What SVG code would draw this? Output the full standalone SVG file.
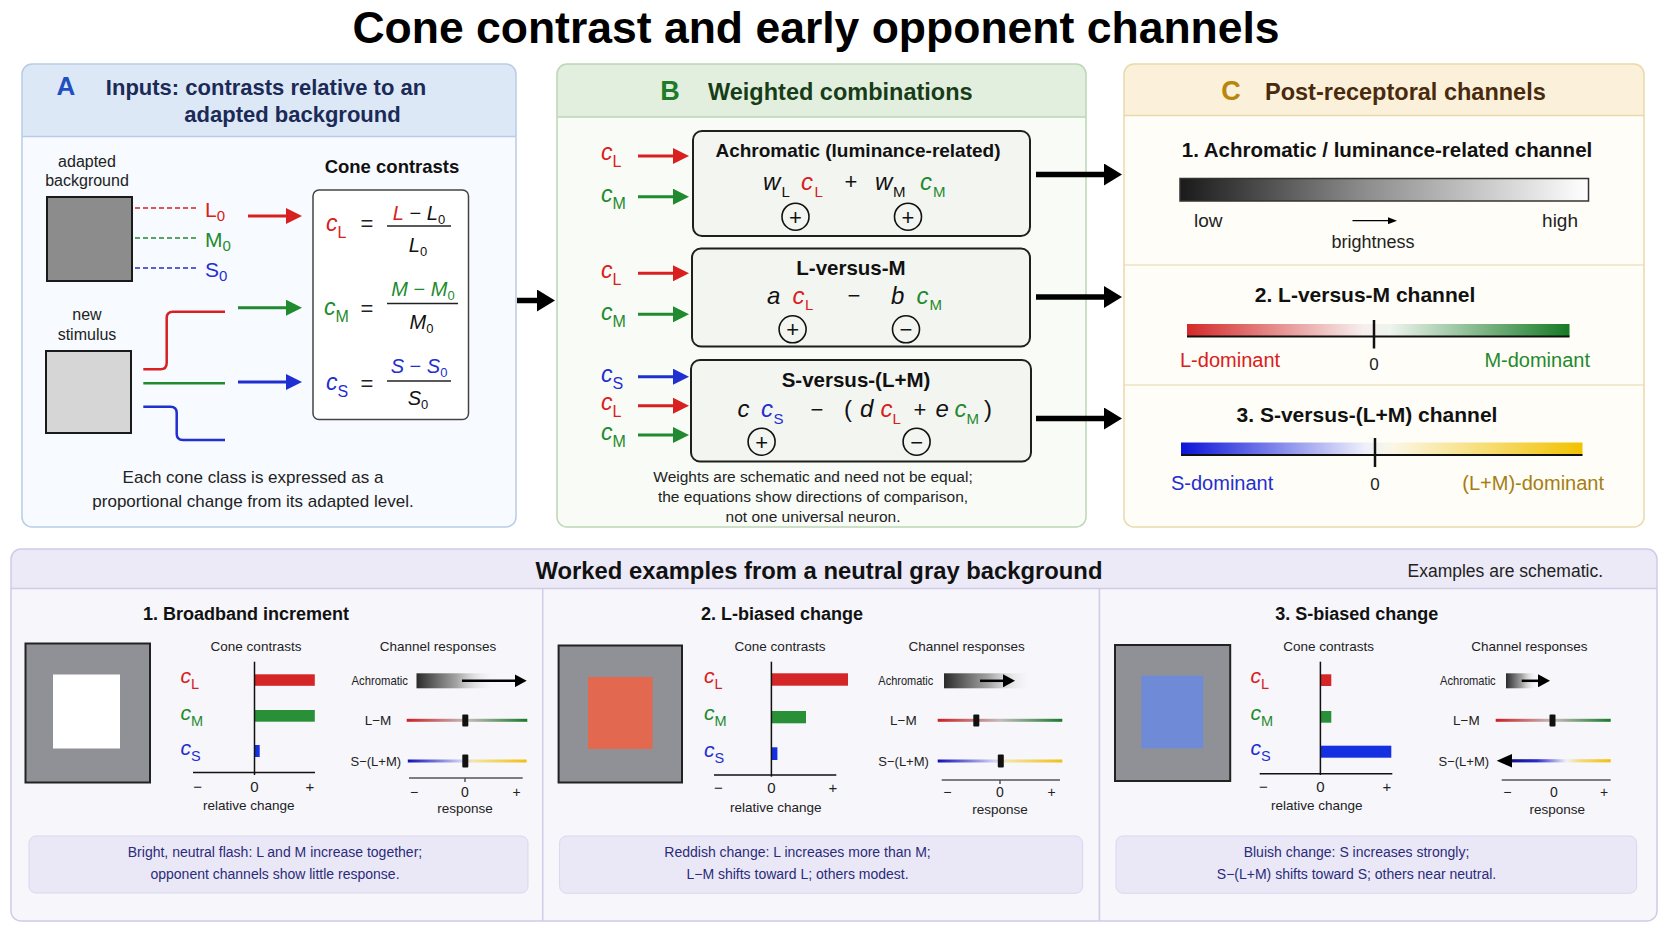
<svg xmlns="http://www.w3.org/2000/svg" width="1672" height="941" viewBox="0 0 1672 941">
<defs>
<style>
text{font-family:"Liberation Sans",Arial,Helvetica,sans-serif}
.b{font-weight:bold}
.i{font-style:italic}
.n{font-style:normal}
.r{fill:#d92020}
.g{fill:#1f8a2e}
.bl{fill:#1f2fd0}
.cap{font-size:17px;fill:#222}
.capB{font-size:15.5px;fill:#222}
.exc{font-size:14px;fill:#2b2b7a}
.sm{font-size:13.5px;fill:#222}
.sgn{fill:none;stroke:#111;stroke-width:1.6}
.ax{stroke:#111;stroke-width:1.5;fill:none}
.rax{stroke:#555;stroke-width:1.5;fill:none}
</style>
<linearGradient id="gAch" x1="0" y1="0" x2="1" y2="0">
<stop offset="0" stop-color="#1a1a1a"/><stop offset="0.45" stop-color="#8c8c8c"/><stop offset="1" stop-color="#ffffff"/>
</linearGradient>
<linearGradient id="gLM" x1="0" y1="0" x2="1" y2="0">
<stop offset="0" stop-color="#d42a2a"/><stop offset="0.46" stop-color="#f7eeee"/><stop offset="0.53" stop-color="#eef4ee"/><stop offset="1" stop-color="#157a25"/>
</linearGradient>
<linearGradient id="gSLM" x1="0" y1="0" x2="1" y2="0">
<stop offset="0" stop-color="#0c14d8"/><stop offset="0.46" stop-color="#eef0fb"/><stop offset="0.53" stop-color="#fbf6e4"/><stop offset="1" stop-color="#f2c200"/>
</linearGradient>
<linearGradient id="gLMs" x1="0" y1="0" x2="1" y2="0">
<stop offset="0" stop-color="#cc2020"/><stop offset="0.5" stop-color="#c4bcbc"/><stop offset="1" stop-color="#1a7a2a"/>
</linearGradient>
<linearGradient id="gSLMs" x1="0" y1="0" x2="1" y2="0">
<stop offset="0" stop-color="#1010b8"/><stop offset="0.45" stop-color="#d0d0f4"/><stop offset="0.55" stop-color="#f4e4a8"/><stop offset="1" stop-color="#f0c010"/>
</linearGradient>
<linearGradient id="gS3" x1="0" y1="0" x2="1" y2="0">
<stop offset="0" stop-color="#0a0a70"/><stop offset="0.3" stop-color="#2a2ad0"/><stop offset="0.58" stop-color="#f0f0f4"/><stop offset="0.7" stop-color="#f4dc80"/><stop offset="1" stop-color="#f0c010"/>
</linearGradient>
<linearGradient id="gFade" x1="0" y1="0" x2="1" y2="0">
<stop offset="0" stop-color="#2a2a2a"/><stop offset="0.5" stop-color="#9a9a9a" stop-opacity="0.9"/><stop offset="1" stop-color="#ffffff" stop-opacity="0"/>
</linearGradient>
<marker id="mR" viewBox="0 0 16 16" refX="8" refY="8" markerWidth="16" markerHeight="16" markerUnits="userSpaceOnUse" orient="auto"><path d="M0,0 L16,8 L0,16 z" fill="#d92020"/></marker>
<marker id="mG" viewBox="0 0 16 16" refX="8" refY="8" markerWidth="16" markerHeight="16" markerUnits="userSpaceOnUse" orient="auto"><path d="M0,0 L16,8 L0,16 z" fill="#1f8a2e"/></marker>
<marker id="mB" viewBox="0 0 16 16" refX="8" refY="8" markerWidth="16" markerHeight="16" markerUnits="userSpaceOnUse" orient="auto"><path d="M0,0 L16,8 L0,16 z" fill="#1f2fd0"/></marker>
<marker id="mK" viewBox="0 0 18 22" refX="9" refY="11" markerWidth="18" markerHeight="22" markerUnits="userSpaceOnUse" orient="auto"><path d="M0,0 L18,11 L0,22 z" fill="#000"/></marker>
<marker id="mKs" viewBox="0 0 12 13" refX="6" refY="6.5" markerWidth="12" markerHeight="13" markerUnits="userSpaceOnUse" orient="auto"><path d="M0,0 L12,6.5 L0,13 z" fill="#000"/></marker>
<marker id="mKt" viewBox="0 0 9 7" refX="4.5" refY="3.5" markerWidth="9" markerHeight="7" markerUnits="userSpaceOnUse" orient="auto"><path d="M0,0 L9,3.5 L0,7 z" fill="#000"/></marker>
</defs>

<rect width="1672" height="941" fill="#ffffff"/>

<text id="title" x="816" y="43" text-anchor="middle" class="b" font-size="44.5" fill="#000">Cone contrast and early opponent channels</text>

<!-- Panel A -->
<g id="panelA">
<rect x="22" y="64" width="494" height="463" rx="10" fill="#f7fafe"/>
<path d="M22,136.5 V74 Q22,64 32,64 H506 Q516,64 516,74 V136.5 Z" fill="#dde8f6"/>
<line x1="22" y1="136.5" x2="516" y2="136.5" stroke="#b9cbe6" stroke-width="1.5"/>
<rect x="22" y="64" width="494" height="463" rx="10" fill="none" stroke="#b9cbe6" stroke-width="1.5"/>
<text x="66" y="95" text-anchor="middle" class="b" font-size="26" fill="#1f4fc0">A</text>
<text x="266" y="95" text-anchor="middle" class="b" font-size="22" fill="#1b2a57">Inputs: contrasts relative to an</text>
<text x="292.5" y="121.7" text-anchor="middle" class="b" font-size="22" fill="#1b2a57">adapted background</text>

<text x="87" y="166.5" text-anchor="middle" font-size="16" fill="#222">adapted</text>
<text x="87" y="186" text-anchor="middle" font-size="16" fill="#222">background</text>
<rect x="47" y="197" width="85" height="84" fill="#8c8c8c" stroke="#1a1a1a" stroke-width="2"/>
<line x1="135" y1="208" x2="197" y2="208" stroke="#d92020" stroke-width="1.6" stroke-dasharray="5 3"/>
<line x1="135" y1="238" x2="197" y2="238" stroke="#1f8a2e" stroke-width="1.6" stroke-dasharray="5 3"/>
<line x1="135" y1="268" x2="197" y2="268" stroke="#1f2fd0" stroke-width="1.6" stroke-dasharray="5 3"/>
<text x="205" y="217" font-size="21" class="r">L<tspan font-size="15" dy="4">0</tspan></text>
<text x="205" y="246.5" font-size="21" class="g">M<tspan font-size="15" dy="4">0</tspan></text>
<text x="205" y="276.5" font-size="21" class="bl">S<tspan font-size="15" dy="4">0</tspan></text>

<text x="87" y="320" text-anchor="middle" font-size="16" fill="#222">new</text>
<text x="87" y="340" text-anchor="middle" font-size="16" fill="#222">stimulus</text>
<rect x="46" y="351" width="85" height="82" fill="#d6d6d6" stroke="#1a1a1a" stroke-width="2"/>
<path d="M143.3,369.3 H160.5 Q166.7,369.3 166.7,363 V318 Q166.7,311.7 173,311.7 H225" fill="none" stroke="#d92020" stroke-width="2.5"/>
<line x1="143.3" y1="383.3" x2="225" y2="383.3" stroke="#1f8a2e" stroke-width="2.5"/>
<path d="M143.3,406.7 H170.5 Q176.7,406.7 176.7,413 V434 Q176.7,440 183,440 H225" fill="none" stroke="#1f2fd0" stroke-width="2.5"/>

<text x="392" y="173" text-anchor="middle" class="b" font-size="18.5" fill="#111">Cone contrasts</text>
<rect x="313" y="190" width="155.5" height="229.5" rx="6" fill="#ffffff" stroke="#444" stroke-width="1.5"/>

<text x="326" y="230.5" font-size="23" class="i r">c<tspan class="n" font-size="16" dy="7">L</tspan></text>
<text x="367" y="231" text-anchor="middle" font-size="22" fill="#222">=</text>
<text x="419" y="220" text-anchor="middle" font-size="20" class="i" fill="#111"><tspan class="r">L</tspan><tspan class="n"> − </tspan>L<tspan class="n" font-size="13" dy="4">0</tspan></text>
<line x1="387" y1="226" x2="451" y2="226" stroke="#222" stroke-width="1.5"/>
<text x="418" y="252" text-anchor="middle" font-size="20" class="i" fill="#111">L<tspan class="n" font-size="13" dy="4">0</tspan></text>

<text x="324" y="315" font-size="23" class="i g">c<tspan class="n" font-size="16" dy="7">M</tspan></text>
<text x="367" y="316" text-anchor="middle" font-size="22" fill="#222">=</text>
<text x="423" y="296" text-anchor="middle" font-size="20" class="i g">M<tspan class="n"> − </tspan>M<tspan class="n" font-size="13" dy="4">0</tspan></text>
<line x1="387" y1="303.5" x2="458" y2="303.5" stroke="#222" stroke-width="1.5"/>
<text x="421.5" y="328.5" text-anchor="middle" font-size="20" class="i" fill="#111">M<tspan class="n" font-size="13" dy="4">0</tspan></text>

<text x="326" y="390" font-size="23" class="i bl">c<tspan class="n" font-size="16" dy="7">S</tspan></text>
<text x="367" y="391" text-anchor="middle" font-size="22" fill="#222">=</text>
<text x="419" y="373.3" text-anchor="middle" font-size="20" class="i bl">S<tspan class="n"> − </tspan>S<tspan class="n" font-size="13" dy="4">0</tspan></text>
<line x1="387" y1="381" x2="451" y2="381" stroke="#222" stroke-width="1.5"/>
<text x="418" y="405" text-anchor="middle" font-size="20" class="i" fill="#111">S<tspan class="n" font-size="13" dy="4">0</tspan></text>

<text x="253" y="483" text-anchor="middle" class="cap">Each cone class is expressed as a</text>
<text x="253" y="507" text-anchor="middle" class="cap">proportional change from its adapted level.</text>
</g>

<!-- Panel B -->
<g id="panelB">
<rect x="557" y="64" width="529" height="463" rx="10" fill="#f8fbf6"/>
<path d="M557,117 V74 Q557,64 567,64 H1076 Q1086,64 1086,74 V117 Z" fill="#e2efdf"/>
<line x1="557" y1="117" x2="1086" y2="117" stroke="#bcd6b6" stroke-width="1.5"/>
<rect x="557" y="64" width="529" height="463" rx="10" fill="none" stroke="#bcd6b6" stroke-width="1.5"/>
<text x="670" y="100" text-anchor="middle" class="b" font-size="27" fill="#1f7a2a">B</text>
<text x="708" y="100" class="b" font-size="23.5" fill="#173d17">Weighted combinations</text>

<text x="601" y="160" font-size="23" class="i r">c<tspan class="n" font-size="16" dy="7">L</tspan></text>
<text x="601" y="201.7" font-size="23" class="i g">c<tspan class="n" font-size="16" dy="7">M</tspan></text>
<text x="601" y="278" font-size="23" class="i r">c<tspan class="n" font-size="16" dy="7">L</tspan></text>
<text x="601" y="320" font-size="23" class="i g">c<tspan class="n" font-size="16" dy="7">M</tspan></text>
<text x="601" y="381.7" font-size="23" class="i bl">c<tspan class="n" font-size="16" dy="7">S</tspan></text>
<text x="601" y="410" font-size="23" class="i r">c<tspan class="n" font-size="16" dy="7">L</tspan></text>
<text x="601" y="440" font-size="23" class="i g">c<tspan class="n" font-size="16" dy="7">M</tspan></text>

<g id="boxAch">
<rect x="693" y="131" width="337" height="105" rx="9" fill="#f3f5f1" stroke="#1f1f1f" stroke-width="2"/>
<text x="858" y="157" text-anchor="middle" class="b" font-size="19" fill="#111">Achromatic (luminance-related)</text>
<text x="763" y="190" font-size="24" class="i" fill="#111">w</text><text x="781.5" y="196.5" font-size="15" fill="#111">L</text>
<text x="801" y="190" font-size="24" class="i r">c</text><text x="814.5" y="196.5" font-size="15" class="r">L</text>
<text x="851" y="189" text-anchor="middle" font-size="22" fill="#111">+</text>
<text x="875" y="190" font-size="24" class="i" fill="#111">w</text><text x="893" y="196.5" font-size="15" fill="#111">M</text>
<text x="920" y="190" font-size="24" class="i g">c</text><text x="933" y="196.5" font-size="15" class="g">M</text>
<circle cx="795.5" cy="216.7" r="13.5" class="sgn"/><text x="795.5" y="224.5" text-anchor="middle" font-size="22" fill="#111">+</text>
<circle cx="908" cy="216.7" r="13.5" class="sgn"/><text x="908" y="224.5" text-anchor="middle" font-size="22" fill="#111">+</text>
</g>

<g id="boxLM">
<rect x="692" y="248.5" width="338" height="98" rx="9" fill="#f3f5f1" stroke="#1f1f1f" stroke-width="2"/>
<text x="851" y="275" text-anchor="middle" class="b" font-size="20.5" fill="#111">L-versus-M</text>
<text x="767" y="303.5" font-size="24" class="i" fill="#111">a</text>
<text x="792.6" y="303.5" font-size="24" class="i r">c</text><text x="805" y="310" font-size="15" class="r">L</text>
<text x="854" y="303" text-anchor="middle" font-size="22" fill="#111">−</text>
<text x="891" y="303.5" font-size="24" class="i" fill="#111">b</text>
<text x="916.6" y="303.5" font-size="24" class="i g">c</text><text x="929.5" y="310" font-size="15" class="g">M</text>
<circle cx="792.6" cy="329.3" r="13.5" class="sgn"/><text x="792.6" y="337" text-anchor="middle" font-size="22" fill="#111">+</text>
<circle cx="906" cy="329.3" r="13.5" class="sgn"/><text x="906" y="337" text-anchor="middle" font-size="22" fill="#111">−</text>
</g>

<g id="boxSLM">
<rect x="691" y="360" width="340" height="101.5" rx="9" fill="#f3f5f1" stroke="#1f1f1f" stroke-width="2"/>
<text x="856" y="387" text-anchor="middle" class="b" font-size="20.5" fill="#111">S-versus-(L+M)</text>
<text x="737.5" y="417" font-size="24" class="i" fill="#111">c</text>
<text x="761" y="417" font-size="24" class="i bl">c</text><text x="773.5" y="423.5" font-size="15" class="bl">S</text>
<text x="817" y="416.5" text-anchor="middle" font-size="22" fill="#111">−</text>
<text x="844" y="417" font-size="24" fill="#111">(</text>
<text x="860" y="417" font-size="24" class="i" fill="#111">d</text>
<text x="880.5" y="417" font-size="24" class="i r">c</text><text x="892.5" y="423.5" font-size="15" class="r">L</text>
<text x="920" y="416.5" text-anchor="middle" font-size="22" fill="#111">+</text>
<text x="935.5" y="417" font-size="24" class="i" fill="#111">e</text>
<text x="954.5" y="417" font-size="24" class="i g">c</text><text x="966.5" y="423.5" font-size="15" class="g">M</text>
<text x="984" y="417" font-size="24" fill="#111">)</text>
<circle cx="761.6" cy="441.7" r="13.5" class="sgn"/><text x="761.6" y="449.5" text-anchor="middle" font-size="22" fill="#111">+</text>
<circle cx="916.6" cy="441.7" r="13.5" class="sgn"/><text x="916.6" y="449.5" text-anchor="middle" font-size="22" fill="#111">−</text>
</g>

<text x="813" y="481.7" text-anchor="middle" class="capB">Weights are schematic and need not be equal;</text>
<text x="813" y="501.7" text-anchor="middle" class="capB">the equations show directions of comparison,</text>
<text x="813" y="521.7" text-anchor="middle" class="capB">not one universal neuron.</text>
</g>

<!-- Panel C -->
<g id="panelC">
<rect x="1124" y="64" width="520" height="463" rx="10" fill="#fffdf7"/>
<path d="M1124,115.5 V74 Q1124,64 1134,64 H1634 Q1644,64 1644,74 V115.5 Z" fill="#fbf0d9"/>
<line x1="1124" y1="115.5" x2="1644" y2="115.5" stroke="#ead9ac" stroke-width="1.5"/>
<line x1="1124" y1="265" x2="1644" y2="265" stroke="#efe2c4" stroke-width="1.5"/>
<line x1="1124" y1="385" x2="1644" y2="385" stroke="#efe2c4" stroke-width="1.5"/>
<rect x="1124" y="64" width="520" height="463" rx="10" fill="none" stroke="#ead9ac" stroke-width="1.5"/>
<text x="1231" y="100" text-anchor="middle" class="b" font-size="27" fill="#b8860b">C</text>
<text x="1265" y="100" class="b" font-size="23.5" fill="#4a2a0c">Post-receptoral channels</text>

<g id="chAch">
<text x="1387" y="157" text-anchor="middle" class="b" font-size="20.5" fill="#111">1. Achromatic / luminance-related channel</text>
<rect x="1180" y="178.5" width="408.5" height="22.5" fill="url(#gAch)" stroke="#333" stroke-width="1.5"/>
<text x="1194" y="226.5" font-size="19" fill="#222">low</text>
<text x="1578" y="226.5" text-anchor="end" font-size="19" fill="#222">high</text>
<line x1="1352.5" y1="220.7" x2="1392.5" y2="220.7" stroke="#000" stroke-width="1.3" marker-end="url(#mKt)"/>
<text x="1373" y="248.3" text-anchor="middle" font-size="18" fill="#222">brightness</text>
</g>

<g id="chLM">
<text x="1365" y="301.7" text-anchor="middle" class="b" font-size="21" fill="#111">2. L-versus-M channel</text>
<rect x="1187" y="324" width="382.5" height="12.5" fill="url(#gLM)"/>
<line x1="1187" y1="336.5" x2="1569.5" y2="336.5" stroke="#111" stroke-width="2"/>
<line x1="1374" y1="320" x2="1374" y2="348.5" stroke="#111" stroke-width="2.5"/>
<text x="1180" y="366.7" font-size="20" class="r">L-dominant</text>
<text x="1374" y="370" text-anchor="middle" font-size="17" fill="#222">0</text>
<text x="1590" y="366.7" text-anchor="end" font-size="20" class="g">M-dominant</text>
</g>

<g id="chSLM">
<text x="1367" y="421.7" text-anchor="middle" class="b" font-size="21" fill="#111">3. S-versus-(L+M) channel</text>
<rect x="1181" y="442.5" width="401.5" height="12.5" fill="url(#gSLM)"/>
<line x1="1181" y1="455" x2="1582.5" y2="455" stroke="#111" stroke-width="2"/>
<line x1="1375" y1="438" x2="1375" y2="467" stroke="#111" stroke-width="2.5"/>
<text x="1171" y="490" font-size="20" class="bl">S-dominant</text>
<text x="1375" y="490" text-anchor="middle" font-size="17" fill="#222">0</text>
<text x="1604" y="490" text-anchor="end" font-size="20" fill="#a57d12">(L+M)-dominant</text>
</g>
</g>

<!-- Connectors -->
<g id="connectors" fill="none">
<line x1="248" y1="216" x2="294" y2="216" stroke="#d92020" stroke-width="3" marker-end="url(#mR)"/>
<line x1="238" y1="307.7" x2="294" y2="307.7" stroke="#1f8a2e" stroke-width="3" marker-end="url(#mG)"/>
<line x1="238" y1="382" x2="294" y2="382" stroke="#1f2fd0" stroke-width="3" marker-end="url(#mB)"/>
<line x1="517" y1="300.5" x2="546" y2="300.5" stroke="#000" stroke-width="5.5" marker-end="url(#mK)"/>
<line x1="638" y1="156" x2="681" y2="156" stroke="#d92020" stroke-width="3" marker-end="url(#mR)"/>
<line x1="638" y1="196.7" x2="681" y2="196.7" stroke="#1f8a2e" stroke-width="3" marker-end="url(#mG)"/>
<line x1="638" y1="273.3" x2="681" y2="273.3" stroke="#d92020" stroke-width="3" marker-end="url(#mR)"/>
<line x1="638" y1="314.3" x2="681" y2="314.3" stroke="#1f8a2e" stroke-width="3" marker-end="url(#mG)"/>
<line x1="638" y1="376.7" x2="681" y2="376.7" stroke="#1f2fd0" stroke-width="3" marker-end="url(#mB)"/>
<line x1="638" y1="405.7" x2="681" y2="405.7" stroke="#d92020" stroke-width="3" marker-end="url(#mR)"/>
<line x1="638" y1="435" x2="681" y2="435" stroke="#1f8a2e" stroke-width="3" marker-end="url(#mG)"/>
<line x1="1036" y1="174.5" x2="1113" y2="174.5" stroke="#000" stroke-width="5.5" marker-end="url(#mK)"/>
<line x1="1036" y1="297" x2="1113" y2="297" stroke="#000" stroke-width="5.5" marker-end="url(#mK)"/>
<line x1="1036" y1="418.5" x2="1113" y2="418.5" stroke="#000" stroke-width="5.5" marker-end="url(#mK)"/>
</g>

<!-- Worked examples -->
<g id="examples">
<rect x="11" y="549" width="1646" height="372" rx="10" fill="#f6f6fb"/>
<path d="M11,588.5 V559 Q11,549 21,549 H1647 Q1657,549 1657,559 V588.5 Z" fill="#eceaf7"/>
<line x1="11" y1="588.5" x2="1657" y2="588.5" stroke="#cfcbe8" stroke-width="1.5"/>
<line x1="542.7" y1="588.5" x2="542.7" y2="921" stroke="#cfcbe8" stroke-width="1.5"/>
<line x1="1099.4" y1="588.5" x2="1099.4" y2="921" stroke="#cfcbe8" stroke-width="1.5"/>
<rect x="11" y="549" width="1646" height="372" rx="10" fill="none" stroke="#cfcbe8" stroke-width="1.5"/>
<text x="819" y="579" text-anchor="middle" class="b" font-size="23.8" fill="#111">Worked examples from a neutral gray background</text>
<text x="1603" y="577" text-anchor="end" font-size="17.5" fill="#222">Examples are schematic.</text>
</g>

<g id="ex1">
<text x="246" y="620" text-anchor="middle" class="b" font-size="18" fill="#111">1. Broadband increment</text>
<rect x="25.5" y="643.5" width="124.5" height="139" fill="#8f9196" stroke="#222" stroke-width="2"/>
<rect x="53" y="674.5" width="67" height="74" fill="#ffffff"/>
<text x="256" y="651" text-anchor="middle" class="sm">Cone contrasts</text>
<text x="180.5" y="683.3" font-size="21" class="i r">c<tspan class="n" font-size="14.5" dy="6">L</tspan></text>
<text x="180.5" y="720" font-size="21" class="i g">c<tspan class="n" font-size="14.5" dy="6">M</tspan></text>
<text x="180.5" y="755" font-size="21" class="i bl">c<tspan class="n" font-size="14.5" dy="6">S</tspan></text>
<rect x="254.5" y="674.3" width="60.3" height="11.5" fill="#d42626"/>
<rect x="254.5" y="710" width="60.3" height="11.7" fill="#2a9038"/>
<rect x="254.5" y="745" width="5.2" height="12" fill="#1530e0"/>
<line x1="254.5" y1="661.7" x2="254.5" y2="775" class="ax"/>
<line x1="193" y1="772.5" x2="315" y2="772.5" class="ax"/>
<text x="197.7" y="791.7" text-anchor="middle" font-size="15" fill="#222">−</text>
<text x="254.5" y="791.7" text-anchor="middle" font-size="15" fill="#222">0</text>
<text x="310" y="791.7" text-anchor="middle" font-size="15" fill="#222">+</text>
<text x="248.7" y="810" text-anchor="middle" class="sm">relative change</text>

<text x="438" y="651" text-anchor="middle" class="sm">Channel responses</text>
<text x="351.5" y="685" font-size="13" fill="#222" textLength="56.5" lengthAdjust="spacingAndGlyphs">Achromatic</text>
<rect x="416.5" y="673.3" width="80" height="15" fill="url(#gFade)"/>
<line x1="462" y1="680.8" x2="520.7" y2="680.8" stroke="#000" stroke-width="2.5" marker-end="url(#mKs)"/>
<text x="364.7" y="725" font-size="13.5" fill="#222">L−M</text>
<rect x="406.7" y="718.8" width="120.6" height="3" fill="url(#gLMs)"/>
<rect x="462.3" y="714.5" width="6" height="12" rx="1" fill="#111"/>
<text x="350.5" y="766" font-size="13" fill="#222">S−(L+M)</text>
<rect x="407.8" y="759.5" width="118.8" height="3" fill="url(#gSLMs)"/>
<rect x="462.3" y="754.5" width="6" height="13" rx="1" fill="#111"/>
<line x1="409" y1="778" x2="522.7" y2="778" class="rax"/>
<line x1="465" y1="778" x2="465" y2="782" class="rax"/>
<text x="414" y="796.7" text-anchor="middle" font-size="14" fill="#222">−</text>
<text x="465" y="796.7" text-anchor="middle" font-size="14" fill="#222">0</text>
<text x="516.7" y="796.7" text-anchor="middle" font-size="14" fill="#222">+</text>
<text x="465" y="812.5" text-anchor="middle" class="sm">response</text>

<rect x="29" y="836" width="499" height="57" rx="7" fill="#eae8f6" stroke="#dad7ee" stroke-width="1"/>
<text x="275" y="856.7" text-anchor="middle" class="exc">Bright, neutral flash: L and M increase together;</text>
<text x="275" y="879.3" text-anchor="middle" class="exc">opponent channels show little response.</text>
</g>

<g id="ex2">
<text x="782" y="620" text-anchor="middle" class="b" font-size="18" fill="#111">2. L-biased change</text>
<rect x="558.6" y="645.5" width="123.4" height="137" fill="#8f9196" stroke="#222" stroke-width="2"/>
<rect x="588" y="677" width="64.5" height="72" fill="#e2684f"/>
<text x="780" y="651" text-anchor="middle" class="sm">Cone contrasts</text>
<text x="704" y="683.3" font-size="21" class="i r">c<tspan class="n" font-size="14.5" dy="6">L</tspan></text>
<text x="704" y="720" font-size="21" class="i g">c<tspan class="n" font-size="14.5" dy="6">M</tspan></text>
<text x="704" y="757" font-size="21" class="i bl">c<tspan class="n" font-size="14.5" dy="6">S</tspan></text>
<rect x="771.4" y="673.3" width="76.6" height="12.4" fill="#d42626"/>
<rect x="771.4" y="711" width="34.6" height="12.3" fill="#2a9038"/>
<rect x="771.4" y="747.3" width="6" height="12.7" fill="#1530e0"/>
<line x1="771.4" y1="661.7" x2="771.4" y2="776.7" class="ax"/>
<line x1="714" y1="775" x2="836.3" y2="775" class="ax"/>
<text x="718.5" y="793.3" text-anchor="middle" font-size="15" fill="#222">−</text>
<text x="771.4" y="793.3" text-anchor="middle" font-size="15" fill="#222">0</text>
<text x="832.8" y="793.3" text-anchor="middle" font-size="15" fill="#222">+</text>
<text x="775.7" y="811.7" text-anchor="middle" class="sm">relative change</text>

<text x="966.7" y="651" text-anchor="middle" class="sm">Channel responses</text>
<text x="878.3" y="685" font-size="13" fill="#222" textLength="55" lengthAdjust="spacingAndGlyphs">Achromatic</text>
<rect x="944" y="673.3" width="89" height="15" fill="url(#gFade)"/>
<line x1="980" y1="680.8" x2="1009" y2="680.8" stroke="#000" stroke-width="2.5" marker-end="url(#mKs)"/>
<text x="890" y="725" font-size="13.5" fill="#222">L−M</text>
<rect x="937.7" y="718.8" width="124.6" height="3" fill="url(#gLMs)"/>
<rect x="973.3" y="714.5" width="6" height="12" rx="1" fill="#111"/>
<text x="878.3" y="766" font-size="13" fill="#222">S−(L+M)</text>
<rect x="937.7" y="759.5" width="124.6" height="3" fill="url(#gSLMs)"/>
<rect x="997.8" y="754.5" width="6" height="13" rx="1" fill="#111"/>
<line x1="941.7" y1="780" x2="1060" y2="780" class="rax"/>
<line x1="1000" y1="780" x2="1000" y2="784" class="rax"/>
<text x="947.3" y="796.7" text-anchor="middle" font-size="14" fill="#222">−</text>
<text x="1000" y="796.7" text-anchor="middle" font-size="14" fill="#222">0</text>
<text x="1051.7" y="796.7" text-anchor="middle" font-size="14" fill="#222">+</text>
<text x="1000" y="814" text-anchor="middle" class="sm">response</text>

<rect x="559.6" y="836" width="523" height="57.3" rx="7" fill="#eae8f6" stroke="#dad7ee" stroke-width="1"/>
<text x="797.5" y="856.7" text-anchor="middle" class="exc">Reddish change: L increases more than M;</text>
<text x="797.5" y="879.3" text-anchor="middle" class="exc">L−M shifts toward L; others modest.</text>
</g>

<g id="ex3">
<text x="1356.7" y="620" text-anchor="middle" class="b" font-size="18" fill="#111">3. S-biased change</text>
<rect x="1115" y="645" width="115.2" height="136" fill="#8f9196" stroke="#222" stroke-width="2"/>
<rect x="1141.5" y="675.7" width="61.8" height="72.6" fill="#6f8ad6"/>
<text x="1328.7" y="651" text-anchor="middle" class="sm">Cone contrasts</text>
<text x="1250.6" y="683.3" font-size="21" class="i r">c<tspan class="n" font-size="14.5" dy="6">L</tspan></text>
<text x="1250.6" y="720" font-size="21" class="i g">c<tspan class="n" font-size="14.5" dy="6">M</tspan></text>
<text x="1250.6" y="755" font-size="21" class="i bl">c<tspan class="n" font-size="14.5" dy="6">S</tspan></text>
<rect x="1320.4" y="674.3" width="10.9" height="11.7" fill="#d42626"/>
<rect x="1320.4" y="711" width="10.9" height="11.7" fill="#2a9038"/>
<rect x="1320.4" y="745.7" width="70.9" height="12" fill="#1530e0"/>
<line x1="1320.4" y1="661.7" x2="1320.4" y2="775" class="ax"/>
<line x1="1259.7" y1="773.7" x2="1392.3" y2="773.7" class="ax"/>
<text x="1263.3" y="791.7" text-anchor="middle" font-size="15" fill="#222">−</text>
<text x="1320.4" y="791.7" text-anchor="middle" font-size="15" fill="#222">0</text>
<text x="1387" y="791.7" text-anchor="middle" font-size="15" fill="#222">+</text>
<text x="1316.7" y="810" text-anchor="middle" class="sm">relative change</text>

<text x="1529.4" y="651" text-anchor="middle" class="sm">Channel responses</text>
<text x="1440" y="685" font-size="13" fill="#222" textLength="55.7" lengthAdjust="spacingAndGlyphs">Achromatic</text>
<rect x="1506" y="673.3" width="32" height="15" fill="url(#gFade)"/>
<line x1="1521.7" y1="680.8" x2="1544" y2="680.8" stroke="#000" stroke-width="2.5" marker-end="url(#mKs)"/>
<text x="1453" y="725" font-size="13.5" fill="#222">L−M</text>
<rect x="1495.7" y="718.8" width="115" height="3" fill="url(#gLMs)"/>
<rect x="1549.5" y="714.5" width="6" height="12" rx="1" fill="#111"/>
<text x="1438.5" y="766" font-size="13" fill="#222">S−(L+M)</text>
<rect x="1505" y="759.2" width="105.7" height="3.2" fill="url(#gS3)"/>
<polygon points="1496.7,760.8 1512,754 1512,767.6" fill="#000"/>
<line x1="1501.7" y1="780" x2="1610.7" y2="780" class="rax"/>
<text x="1507.3" y="796.7" text-anchor="middle" font-size="14" fill="#222">−</text>
<text x="1554" y="796.7" text-anchor="middle" font-size="14" fill="#222">0</text>
<text x="1604" y="796.7" text-anchor="middle" font-size="14" fill="#222">+</text>
<text x="1557.3" y="814" text-anchor="middle" class="sm">response</text>

<rect x="1116" y="836" width="520.6" height="57.3" rx="7" fill="#eae8f6" stroke="#dad7ee" stroke-width="1"/>
<text x="1356.5" y="856.7" text-anchor="middle" class="exc">Bluish change: S increases strongly;</text>
<text x="1356.5" y="879.3" text-anchor="middle" class="exc">S−(L+M) shifts toward S; others near neutral.</text>
</g>
</svg>
